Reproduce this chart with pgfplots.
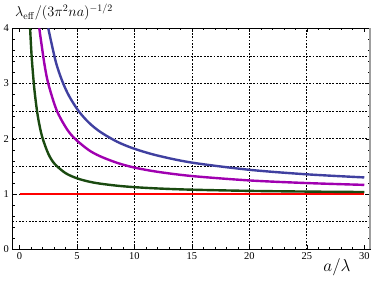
\documentclass[border=0pt]{standalone}
\usepackage[no-math]{fontspec}
\setmainfont{Liberation Serif}
\usepackage{pgfplots}
\pgfplotsset{compat=1.18}
\definecolor{cblue}{HTML}{4040A0}
\definecolor{cmag}{HTML}{A000B0}
\definecolor{cgreen}{HTML}{1A4A10}
\begin{document}
\begin{tikzpicture}
\begin{axis}[
  scale only axis, width=357.7bp, height=221.1bp,
  xmin=-0.63, xmax=30.5, ymin=0, ymax=4,
  xtick={0,5,...,30}, ytick={0,1,2,3,4},
  minor x tick num=4, minor y tick num=4,
  tick align=inside, major tick length=4bp, minor tick length=2.2bp,
  tick style={black, line width=0.6bp},
  axis line style={line width=0.8bp},
  ticklabel style={font=\fontsize{10.5}{12}\selectfont},
  /pgf/number format/assume math mode=true,
  extra x ticks={5,10,15,20,25}, extra x tick labels={},
  extra x tick style={grid=major, major tick length=0pt},
  extra y ticks={0.5,1.0,...,3.5}, extra y tick labels={},
  extra y tick style={grid=major, major tick length=0pt},
  major grid style={black, line width=0.75bp, dash pattern=on 1.8bp off 1.5bp},
]
\addplot[red, line width=1.9bp] coordinates {(0,1) (30,1)};
\addplot[cgreen, line width=2.4bp, smooth] coordinates {
(0.92,4.0) (1.06,3.472) (1.29,2.899) (1.58,2.424) (1.95,2.051) (2.5,1.732) (3.05,1.548) (4,1.38) (5,1.286) (6,1.228) (7,1.19) (8.5,1.152) (10,1.126) (12,1.1025) (15,1.08) (20,1.0585) (25,1.046) (30,1.0377)};
\addplot[cmag, line width=2.4bp, smooth] coordinates {
(1.717,4.0) (2.16,3.361) (2.51,2.992) (3.23,2.517) (4.1,2.183) (4.83,2.0) (6,1.80) (7,1.686) (8.5,1.565) (10,1.48) (12,1.404) (15,1.327) (20,1.2475) (25,1.20) (30,1.167)};
\addplot[cblue, line width=2.4bp, smooth] coordinates {
(2.5,4.0) (3.15,3.397) (3.72,3.043) (4.3,2.779) (5.11,2.511) (6,2.30) (7,2.129) (8.5,1.947) (10,1.82) (12,1.698) (15,1.570) (20,1.44) (25,1.358) (30,1.302)};
\end{axis}
\draw[gray!75, line width=1.6bp] (current axis.south east) -- (current axis.north east);
\node[anchor=base west, inner sep=0pt, font=\fontsize{14.8}{16}\selectfont] at ([shift={(2.7bp,11.3bp)}]current axis.north west) {$\lambda_{\mathrm{eff}}/(3\pi^2 n a)^{-1/2}$};
\node[anchor=base, inner sep=0pt, font=\fontsize{18}{20}\selectfont] at ([shift={(324.7bp,-22.6bp)}]current axis.south west) {$a/\lambda$};
\path ([shift={(-12.3bp,-36.6bp)}]current axis.south west) rectangle ([shift={(12bp,28.3bp)}]current axis.north east);
\end{tikzpicture}
\end{document}
